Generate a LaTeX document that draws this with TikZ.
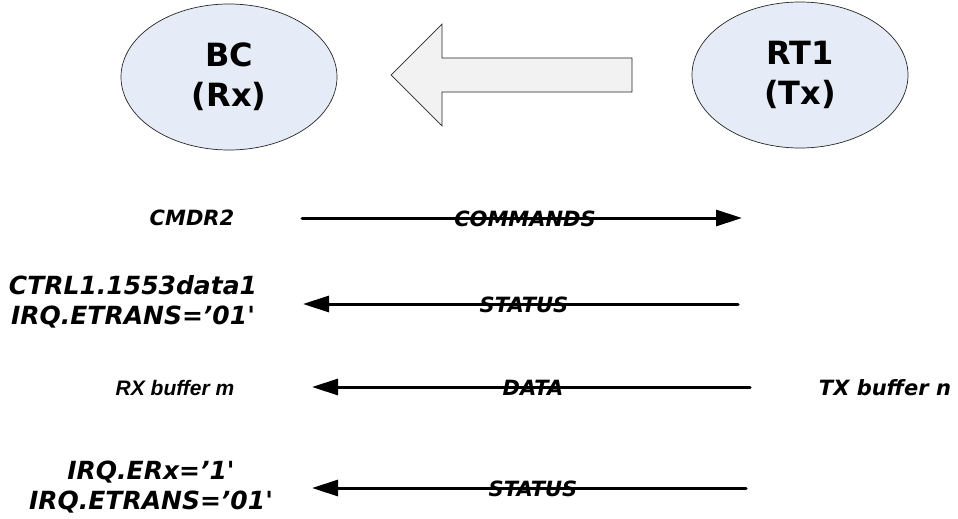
\documentclass[tikz,border=0pt]{standalone}
\usepackage{fontspec}
\newfontfamily\vfont{DejaVu Sans}
\newfontfamily\afont{Liberation Sans}
\usetikzlibrary{arrows.meta,positioning,shapes.geometric}
\definecolor{busfill}{RGB}{230,236,247}
\definecolor{bigfill}{RGB}{242,242,242}

\begin{document}
\begin{tikzpicture}[x=1pt,y=-1pt,
    term/.style={ellipse,draw=black!85,fill=busfill,line width=.7pt,minimum width=216pt,minimum height=146pt,inner sep=0pt,align=center,font=\vfont\bfseries\fontsize{32}{40}\selectfont},
    msg/.style={line width=3pt,line cap=round,-{Triangle[length=26pt,width=16pt]}},
    lbl/.style={font=\vfont\bfseries\itshape\fontsize{21}{25}\selectfont,inner sep=0pt},
    side/.style={font=\vfont\bfseries\itshape\fontsize{25}{30}\selectfont,align=center,inner sep=0pt}]
    \useasboundingbox (0,0) rectangle (958,519);
    % terminals and transfer direction
    \node[term] (bc) at (229,77) {BC\\(Rx)};
    \node[term] (rt) at (800,75) {RT1\\(Tx)};
    \draw[black!85,fill=bigfill,line width=.7pt] (391,75)--(442,24)--(442,58)--(632,58)--(632,92)--(442,92)--(442,126)--cycle;
    % message sequence
    \coordinate (cmdL) at (302,218); \coordinate (cmdR) at (742,218);
    \coordinate (st1L) at (303,304); \coordinate (st1R) at (738,304);
    \coordinate (datL) at (312,387); \coordinate (datR) at (750,387);
    \coordinate (st2L) at (312,488); \coordinate (st2R) at (746,488);
    \draw[msg] (cmdL)--(cmdR); \node[lbl] (cmd) at (525,219) {COMMANDS};
    \draw[msg] (st1R)--(st1L); \node[lbl] (st1) at (524,305) {STATUS};
    \draw[msg] (datR)--(datL); \node[lbl] (dat) at (533,388) {DATA};
    \draw[msg] (st2R)--(st2L); \node[lbl] (st2) at (533,489) {STATUS};
    % register notes
    \node[lbl] (cmdr) at (192,218) {CMDR2};
    \node[side] (ctrl) at (133,302) {CTRL1.1553data1\\IRQ.ETRANS=’01\textquotesingle};
    \node[font=\afont\bfseries\itshape\fontsize{21}{25}\selectfont,inner sep=0pt] (rxb) at (175,388) {RX buffer m};
    \node[lbl] (txb) at (885,388) {TX buffer n};
    \node[side] (irq) at (151,487) {IRQ.ERx=’1\textquotesingle\\IRQ.ETRANS=’01\textquotesingle};
\end{tikzpicture}
\end{document}
